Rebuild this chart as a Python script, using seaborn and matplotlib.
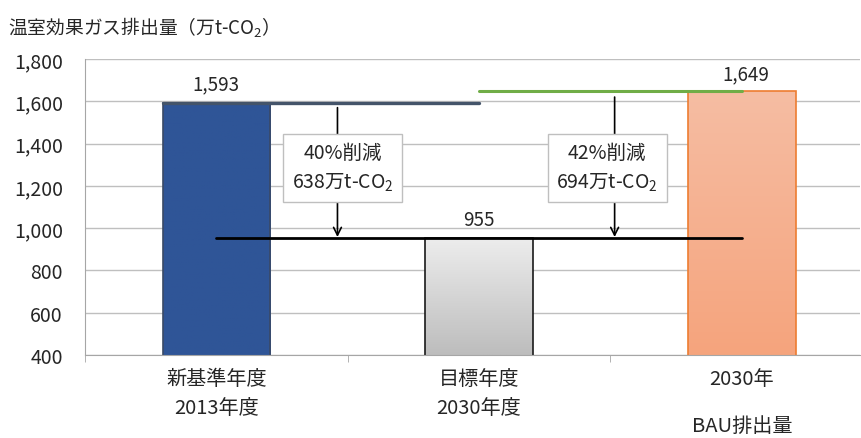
import numpy as np
import pandas as pd
import seaborn as sns
from matplotlib import pyplot as plt
from matplotlib.colors import LinearSegmentedColormap

# data
categories = ["新基準年度\n2013年度", "目標年度\n2030年度", "2030年\nBAU排出量"]
emissions = [1593, 955, 1649]
value_labels = ["1,593", "955", "1,649"]
reduce_labels = ["40%削減\n638万t-CO$_2$", "42%削減\n694万t-CO$_2$"]

sns.set_style("white")
plt.rcParams['font.family'] = ['Noto Sans CJK JP', 'DejaVu Sans']
plt.rcParams['mathtext.fontset'] = 'custom'
plt.rcParams['mathtext.rm'] = 'Noto Sans CJK JP'

df = pd.DataFrame({"category": categories, "value": emissions})

fig = plt.figure(figsize=(8.61, 4.39), dpi=100)
ax = fig.add_axes([85 / 861, 1 - 356 / 439, (860 - 85) / 861, (356 - 60) / 439])

sns.barplot(data=df, x="category", y="value", ax=ax, width=0.41,
            color="white", saturation=1)

# bar fills: solid blue, gray gradient, salmon gradient
edges = ["#3A4A66", "#1A1A1A", "#ED7D31"]
grads = [("#2F5597", "#2F5597"), ("#EDEDED", "#BDBDBD"), ("#F6BDA3", "#F5A47D")]
for patch, ec, (c_top, c_bot) in zip(ax.patches, edges, grads):
    patch.set_edgecolor(ec)
    patch.set_linewidth(1.2)
    x0, y0 = patch.get_x(), 400
    w, h = patch.get_width(), patch.get_height()
    cmap = LinearSegmentedColormap.from_list("g", [c_bot, c_top])
    grad = np.linspace(0, 1, 100).reshape(-1, 1)
    im = ax.imshow(grad, cmap=cmap, aspect="auto", origin="lower",
                   extent=[x0, x0 + w, y0, h], zorder=patch.get_zorder() + 0.1)
    im.set_clip_path(patch)
    patch.set_zorder(patch.get_zorder() + 0.2)
    patch.set_facecolor("none")

ax.set_xlim(-0.5, 2.45)
ax.set_ylim(400, 1800)
ax.set_yticks(range(400, 1801, 200))
ax.set_yticklabels([f"{v:,}" for v in range(400, 1801, 200)], fontsize=14)
ax.yaxis.grid(True, color="#BFBFBF", linewidth=1)
ax.set_axisbelow(True)
ax.set_xlabel("")
ax.set_ylabel("")
ax.set_xticks([0, 1, 2])
ax.set_xticklabels([])
ax.tick_params(axis="x", length=0)
for i, lab in enumerate(categories):
    ls = 2.6 if i == 2 else 1.5
    ax.text(i, -0.045, lab, ha="center", va="top", fontsize=14.5, linespacing=ls,
            transform=ax.get_xaxis_transform(), clip_on=False)
ax.set_xticks([-0.5, 0.5, 1.5], minor=True)
ax.tick_params(axis="x", which="minor", length=5, color="#A6A6A6", direction="out", bottom=True)
ax.tick_params(axis="y", length=0, pad=16)
for s in ["top", "right"]:
    ax.spines[s].set_visible(False)
for s in ["left", "bottom"]:
    ax.spines[s].set_color("#A6A6A6")

# reference lines
ax.plot([-0.205, 1.0], [emissions[0]] * 2, color="#44546A", lw=2.4, zorder=5)
ax.plot([1.0, 2.0], [emissions[2]] * 2, color="#70AD47", lw=2.2, zorder=5)
ax.plot([0.0, 2.0], [emissions[1]] * 2, color="black", lw=2, zorder=5)

# value labels
ax.text(0.0, 1681, value_labels[0], ha="center", va="center", fontsize=13.5)
ax.text(1.0, 1043, value_labels[1], ha="center", va="center", fontsize=13.5)
ax.text(2.015, 1729, value_labels[2], ha="center", va="center", fontsize=13.5)

# reduction arrows and boxes
for xa, xb, ytop, lab in [(0.461, 0.48, 1570, reduce_labels[0]),
                          (1.516, 1.488, 1620, reduce_labels[1])]:
    ax.annotate("", xy=(xa, emissions[1] + 3), xytext=(xa, ytop),
                arrowprops=dict(arrowstyle="->", color="black", lw=1.2,
                                mutation_scale=14, shrinkA=0, shrinkB=0), zorder=6)
    ax.text(xb, 1287, lab, ha="center", va="center", fontsize=14,
            linespacing=1.45, zorder=7,
            bbox=dict(boxstyle="square,pad=0.45", fc="white", ec="#BFBFBF", lw=1))

fig.text(8 / 861, 1 - 28 / 439, "温室効果ガス排出量（万t-CO$_2$）", fontsize=13.5, va="center")

fig.savefig("out.png", dpi=100)
